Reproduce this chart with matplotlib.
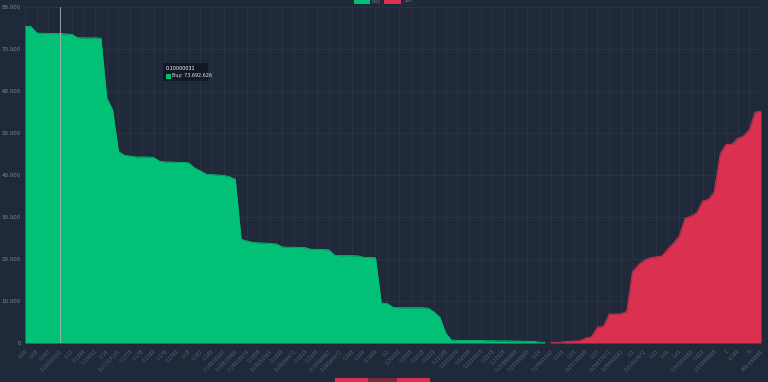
import matplotlib
matplotlib.use("Agg")
import matplotlib.pyplot as plt
from matplotlib.patches import Rectangle
import numpy as np

# order book price levels (category axis)
prices = [
    "0.06", "0.07", "0.08", "0.085", "0.087", "0.09", "0.10000031", "0.11", "0.12", "0.13",
    "0.1399", "0.14", "0.14062", "0.15", "0.16", "0.17", "0.17727185", "0.1774", "0.1775", "0.1777",
    "0.178", "0.1785", "0.1789", "0.17895", "0.179", "0.1795", "0.1799", "0.17999", "0.18", "0.181",
    "0.182", "0.184", "0.185", "0.188", "0.18818187", "0.188185", "0.18818806", "0.189", "0.18918674", "0.1895",
    "0.1899", "0.19", "0.19031564", "0.1905", "0.1909", "0.19095", "0.19099871", "0.191", "0.1918", "0.193",
    "0.1939", "0.194", "0.19499997", "0.195", "0.19599971", "0.197", "0.198", "0.1985", "0.199", "0.1995",
    "0.1999", "0.19999", "0.2", "0.20000001", "0.20001", "0.2001", "0.2005", "0.201", "0.2018", "0.20185",
    "0.2019", "0.21", "0.21198", "0.22", "0.2201570", "0.2202", "0.22039", "0.2225", "0.2229915", "0.2235",
    "0.2238", "0.224", "0.22428", "0.225", "0.22888888", "0.23", "0.23588888", "0.2388", "0.24", "0.245",
    "0.24645332", "0.248", "0.249", "0.2495", "0.25", "0.251", "0.25118888", "0.26", "0.27", "0.28",
    "0.29877471", "0.2989", "0.29900041", "0.2995", "0.3", "0.31", "0.31907672", "0.32", "0.33", "0.35",
    "0.36", "0.4", "0.45", "0.5", "0.50004888", "0.51", "0.522", "0.55", "0.55888888", "0.6",
    "1", "2", "4.199", "5", "6", "10", "999.999999",
]

# cumulative buy depth (first levels)
buy_depth = [
    75400, 75400, 73800, 73750, 73700, 73700, 73692.626, 73600, 73500, 72700,
    72650, 72650, 72650, 72600, 58300, 55500, 45600, 44700, 44500, 44300,
    44300, 44300, 44200, 43300, 43100, 43100, 43000, 43000, 42900, 41700,
    41000, 40200, 40100, 40000, 39900, 39600, 38960, 24700, 24300, 23950,
    23850, 23800, 23700, 23600, 22900, 22800, 22800, 22750, 22700, 22300,
    22300, 22250, 22200, 20900, 20800, 20800, 20800, 20750, 20400, 20350,
    20300, 9500, 9400, 8500, 8400, 8400, 8400, 8400, 8400, 8300,
    7400, 6200, 2400, 700, 650, 600, 600, 600, 600, 550,
    550, 500, 500, 500, 450, 450, 400, 400, 200, 100,
]

# cumulative sell depth (last levels)
sell_depth = [
    100, 150, 250, 400, 450, 550, 1200, 1500, 3800, 3900,
    6900, 6900, 6950, 7500, 17000, 18600, 19700, 20300, 20500, 20700,
    22300, 23800, 25500, 29700, 30200, 31000, 33800, 34200, 36000, 45000,
    47300, 47300, 48700, 49300, 50800, 55000, 55200,
]

n = len(prices)
x = np.arange(n)
buy = np.full(n, np.nan)
buy[:len(buy_depth)] = buy_depth
sell = np.full(n, np.nan)
sell[n - len(sell_depth):] = sell_depth

bg = "#1f293a"
green = "#02c076"
red = "#d9314f"
grid = "#2a3445"

fig = plt.figure(figsize=(7.68, 3.82), dpi=100, facecolor=bg)
ax = fig.add_axes([25 / 768, 39 / 382, 736 / 768, 336 / 382])
ax.set_facecolor(bg)

ax.fill_between(x, 0, buy, color=green, linewidth=0, zorder=2)
ax.plot(x, buy, color=green, linewidth=0.6, zorder=3)
ax.fill_between(x, 0, sell, color=red, linewidth=0, zorder=2)
ax.plot(x, sell, color=red, linewidth=0.6, zorder=3)

ax.set_xlim(0, n - 1)
ax.set_ylim(0, 80000)

yt = np.arange(0, 80001, 10000)
ax.set_yticks(yt)
ax.set_yticklabels([f"{v:,}".replace(",", ".") for v in yt], fontsize=4, color="#7d889a")
ax.set_xticks(x[::2])
ax.set_xticklabels(prices[::2], rotation=45, ha="right", rotation_mode="anchor",
                   fontsize=3.4, color="#566275")
ax.tick_params(axis="both", length=0, pad=3)
ax.tick_params(axis="x", pad=4)

for s in ax.spines.values():
    s.set_visible(False)
ax.grid(True, color=grid, linewidth=0.6, zorder=0)
ax.set_axisbelow(True)

# hover line at the tooltip level
ax.axvline(6, color="#aab1bb", linewidth=0.6, zorder=4)

# tooltip
W, H = 768, 382
fig.patches.append(Rectangle((163 / W, 1 - 81 / H), 45 / W, 18 / H, transform=fig.transFigure,
                             facecolor="#111826", edgecolor="none", zorder=10))
fig.text(166 / W, 1 - 68 / H, prices[6], fontsize=3.5, color="white", va="center", zorder=11)
fig.patches.append(Rectangle((166 / W, 1 - 78.5 / H), 5 / W, 5 / H, transform=fig.transFigure,
                             facecolor=green, edgecolor="none", zorder=11))
fig.text(172 / W, 1 - 76 / H, "Buy: 73.692,626", fontsize=3.5, color="#e6e9ee", va="center", zorder=11)

# legend (clipped at top)
fig.patches.append(Rectangle((354 / W, 1 - 4 / H), 16 / W, 8 / H, transform=fig.transFigure,
                             facecolor=green, edgecolor="none"))
fig.text(372 / W, 1 - 1 / H, "Buy", fontsize=3.5, color="#6b7587", va="center")
fig.patches.append(Rectangle((384 / W, 1 - 4 / H), 17 / W, 8 / H, transform=fig.transFigure,
                             facecolor=red, edgecolor="none"))
fig.text(404 / W, 1 - 1 / H, "Sell", fontsize=3.5, color="#6b7587", va="center")

# bottom strip (clipped)
fig.patches.append(Rectangle((335 / W, 0), 33 / W, 4 / H, transform=fig.transFigure,
                             facecolor=red, edgecolor="none"))
fig.patches.append(Rectangle((368 / W, 0), 29 / W, 4 / H, transform=fig.transFigure,
                             facecolor="#7a2a3d", edgecolor="none"))
fig.patches.append(Rectangle((397 / W, 0), 33 / W, 4 / H, transform=fig.transFigure,
                             facecolor=red, edgecolor="none"))

fig.savefig("out.png", dpi=100, facecolor=bg)
